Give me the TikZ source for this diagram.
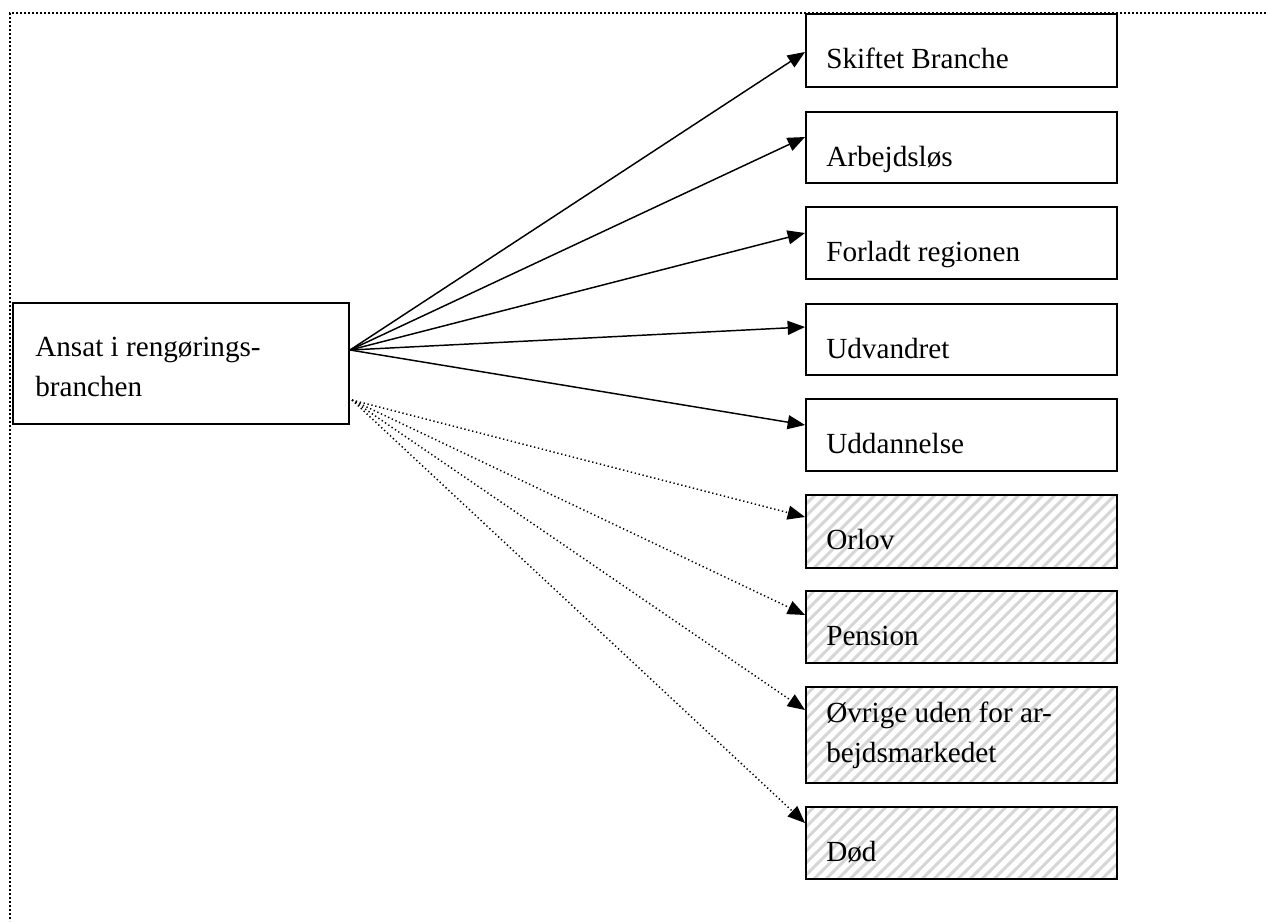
\documentclass[tikz,border=0pt]{standalone}
\usepackage{fontspec}
\setmainfont{Liberation Serif}
\usetikzlibrary{calc,arrows.meta}

\tikzset{
  box/.style={draw, line width=1.5pt, rectangle, inner sep=0pt, anchor=north west},
  hatched/.style={box, path picture={
      \foreach \k in {0,...,42}
        \draw[black!16, line width=2.2pt] ([xshift={\k*9pt-120pt}]path picture bounding box.south west) -- ++(130pt,130pt);}},
  lbl/.style={anchor=base west, inner sep=0pt, font=\fontsize{21.9pt}{30pt}\selectfont},
  flow/.style={line width=1.1pt, -{Triangle[length=13pt,width=10.5pt]}},
  weak/.style={flow, dash pattern=on 1pt off 2pt},
  frame/.style={line width=1.2pt, dash pattern=on 1.2pt off 1.8pt},
}

\begin{document}
\begin{tikzpicture}[x=0.75pt, y=-0.75pt]
  \useasboundingbox (0,0) rectangle (1266,921);
  \draw[frame] (1266,13) -- (10,13) -- (10,921);

  % boxes
  \node[box, minimum width=252pt, minimum height=90.75pt] (ansat) at (12,302) {};
  \begin{scope}[every node/.style={minimum width=233.25pt}]
    \node[box, minimum height=54.75pt] (skift) at (805,13) {};
    \node[box, minimum height=53.25pt] (ledig) at (805,111) {};
    \node[box, minimum height=54pt] (flyt) at (805,206) {};
    \node[box, minimum height=53.25pt] (udv) at (805,303) {};
    \node[box, minimum height=54pt] (udd) at (805,398) {};
    \node[hatched, minimum height=54.75pt] (orlov) at (805,494) {};
    \node[hatched, minimum height=54pt] (pens) at (805,590) {};
    \node[hatched, minimum height=72pt] (ovrig) at (805,686) {};
    \node[hatched, minimum height=54pt] (dod) at (805,806) {};
  \end{scope}

  % texts
  \node[lbl] (ansat-t1) at (35,356) {Ansat i rengørings-};
  \node[lbl] (ansat-t2) at (35,396) {branchen};
  \node[lbl] (skift-t) at (826,68) {Skiftet Branche};
  \node[lbl] (ledig-t) at (826,166) {Arbejdsløs};
  \node[lbl] (flyt-t) at (826,261) {Forladt regionen};
  \node[lbl] (udv-t) at (826,358) {Udvandret};
  \node[lbl] (udd-t) at (826,453) {Uddannelse};
  \node[lbl] (orlov-t) at (826,549) {Orlov};
  \node[lbl] (pens-t) at (826,645) {Pension};
  \node[lbl] (ovrig-t1) at (826,722) {Øvrige uden for ar-};
  \node[lbl] (ovrig-t2) at (826,762) {bejdsmarkedet};
  \node[lbl] (dod-t) at (826,861) {Død};

  % connectors
  \coordinate (ansat-out) at ($(ansat.north east)+(0,48)$);
  \coordinate (ansat-dot) at ($(ansat.north east)+(2,98)$);
  \path[flow] (ansat-out) edge ($(skift.north west)+(0,39)$);
  \path[flow] (ansat-out) edge ($(ledig.north west)+(0,26)$);
  \path[flow] (ansat-out) edge ($(flyt.north west)+(0,27)$);
  \path[flow] (ansat-out) edge ($(udv.north west)+(0,24)$);
  \path[flow] (ansat-out) edge ($(udd.north west)+(0,27)$);
  \path[weak] (ansat-dot) edge ($(orlov.north west)+(0,23)$);
  \path[weak] (ansat-dot) edge ($(pens.north west)+(0,25)$);
  \path[weak] (ansat-dot) edge ($(ovrig.north west)+(0,24)$);
  \path[weak] (ansat-dot) edge ($(dod.north west)+(0,17)$);
\end{tikzpicture}
\end{document}
